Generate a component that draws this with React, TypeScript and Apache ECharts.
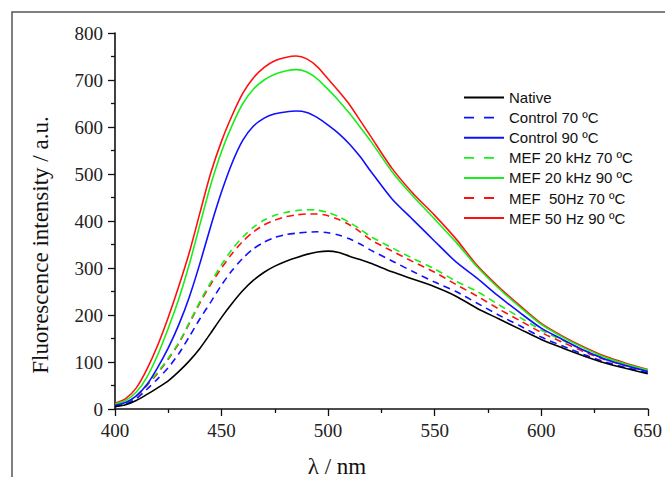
import React, { useEffect, useRef } from "react";
import * as echarts from "echarts";

const wavelengths = [
  400, 405, 410, 415, 420, 425, 430, 435, 440, 445, 450, 455, 460, 465, 470, 475, 480, 485, 490, 495, 500,
  505, 510, 515, 520, 530, 540, 550, 560, 570, 580, 590, 600, 610, 620, 630, 640, 650,
];

const native = [
  5, 9, 18, 31, 45, 60, 80, 103, 130, 162, 195, 225, 252, 274, 291, 304, 314, 322, 329, 334, 336,
  333, 325, 318, 310, 292, 276, 260, 240, 214, 192, 170, 148, 130, 113, 98, 86, 75,
];
const control70 = [
  5, 10, 22, 42, 64, 88, 118, 155, 193, 228, 264, 295, 321, 341, 355, 365, 371, 374, 376, 377, 375,
  370, 362, 351, 338, 315, 292, 270, 250, 225, 200, 177, 153, 134, 116, 100, 88, 77,
];
const control90 = [
  8, 14, 28, 52, 88, 130, 180, 240, 312, 390, 462, 524, 572, 602, 619, 628, 632, 634, 631, 620, 604,
  586, 564, 537, 506, 447, 402, 357, 313, 278, 240, 205, 172, 148, 125, 106, 92, 80,
];
const mef20k70 = [
  6, 12, 28, 52, 78, 108, 142, 185, 230, 270, 307, 340, 366, 387, 402, 412, 418, 422, 424, 423, 418,
  409, 397, 383, 367, 343, 320, 298, 272, 250, 222, 195, 168, 146, 125, 108, 94, 82,
];
const mef20k90 = [
  10, 18, 36, 68, 115, 172, 235, 310, 395, 478, 548, 604, 650, 681, 700, 712, 719, 722, 717, 702, 680,
  656, 629, 600, 570, 505, 452, 404, 355, 302, 257, 217, 180, 153, 130, 110, 95, 83,
];
const mef50h70 = [
  6, 12, 27, 50, 76, 106, 140, 183, 227, 266, 300, 331, 357, 377, 392, 402, 409, 413, 415, 415, 411,
  403, 392, 377, 360, 336, 313, 291, 265, 240, 213, 188, 163, 142, 122, 105, 92, 80,
];
const mef50h90 = [
  12, 22, 45, 85, 135, 195, 262, 335, 420, 503, 570, 625, 672, 705, 727, 741, 748, 751, 745, 728, 702,
  676, 648, 614, 580, 512, 458, 412, 362, 305, 260, 220, 182, 155, 132, 112, 97, 84,
];

const seriesNames = [
  "Native",
  "Control 70 ºC",
  "Control 90 ºC",
  "MEF 20 kHz 70 ºC",
  "MEF 20 kHz 90 ºC",
  "MEF  50Hz 70 ºC",
  "MEF 50 Hz 90 ºC",
];
const seriesValues = [native, control70, control90, mef20k70, mef20k90, mef50h70, mef50h90];
const seriesColors = ["#000000", "#1010ff", "#1010ff", "#1aee1a", "#1aee1a", "#ff1010", "#ff1010"];
const seriesDashed = [false, true, false, true, false, true, false];

const xTicks = { min: 400, max: 650, interval: 50 };
const yTicks = { min: 0, max: 800, interval: 100 };

export default function App() {
  const ref = useRef<HTMLDivElement>(null);
  useEffect(() => {
    if (!ref.current) return;
    const chart = echarts.init(ref.current, null, { renderer: "svg" });
    const serif = "'Liberation Serif', 'Times New Roman', serif";
    const sans = "'Liberation Sans', Arial, sans-serif";
    chart.setOption({
      animation: false,
      backgroundColor: "#ffffff",
      grid: { left: 115, right: 17, top: 33, bottom: 68, containLabel: false },
      xAxis: {
        type: "value",
        min: xTicks.min,
        max: xTicks.max,
        interval: xTicks.interval,
        axisLine: { show: true, lineStyle: { color: "#111", width: 1.6 } },
        axisTick: { show: true, inside: false, length: 7, lineStyle: { color: "#111", width: 1.3 } },
        minorTick: { show: true, splitNumber: 2, length: 4, lineStyle: { color: "#111", width: 1.3 } },
        splitLine: { show: false },
        axisLabel: { fontFamily: serif, fontSize: 19, color: "#222", margin: 12 },
      },
      yAxis: {
        type: "value",
        min: yTicks.min,
        max: yTicks.max,
        interval: yTicks.interval,
        axisLine: { show: true, lineStyle: { color: "#111", width: 1.6 } },
        axisTick: { show: true, inside: false, length: 7, lineStyle: { color: "#111", width: 1.3 } },
        minorTick: { show: true, splitNumber: 2, length: 4, lineStyle: { color: "#111", width: 1.3 } },
        splitLine: { show: false },
        axisLabel: { fontFamily: serif, fontSize: 19, color: "#222", margin: 12 },
      },
      legend: {
        orient: "vertical",
        left: 463,
        top: 90,
        padding: 0,
        itemWidth: 40,
        itemHeight: 14,
        itemGap: 5.1,
        itemStyle: { opacity: 0, color: "transparent", borderColor: "transparent", borderWidth: 0 },
        textStyle: { fontFamily: sans, fontSize: 15, color: "#111" },
        data: seriesNames.map((n, i) => ({
          name: n,
          itemStyle: { opacity: 0, color: "transparent", borderColor: "transparent", borderWidth: 0 },
          lineStyle: seriesDashed[i] ? { type: [10, 10], width: 1.8 } : { type: "solid", width: 2 },
        })),
      },
      series: seriesNames.map((n, i) => ({
        name: n,
        type: "line",
        showSymbol: false,
        symbol: "none",
        smooth: 0.25,
        data: wavelengths.map((w, k) => [w, seriesValues[i][k]]),
        lineStyle: {
          color: seriesColors[i],
          width: 1.6,
          type: seriesDashed[i] ? [7, 5] : "solid",
        },
        itemStyle: { color: seriesColors[i] },
        z: 10 - i,
      })),
      graphic: [
        {
          type: "polyline",
          shape: { points: [[12, 477], [12, 12], [665, 12]] },
          style: { stroke: "#555", lineWidth: 1.5, fill: null },
          silent: true,
        },
        {
          type: "text",
          x: 337,
          y: 466,
          style: {
            text: "λ / nm",
            fontFamily: serif,
            fontSize: 23,
            fill: "#111",
            align: "center",
            verticalAlign: "middle",
          },
        },
        {
          type: "text",
          x: 40,
          y: 245,
          rotation: Math.PI / 2,
          style: {
            text: "Fluorescence intensity / a.u.",
            fontFamily: serif,
            fontSize: 23,
            fill: "#111",
            align: "center",
            verticalAlign: "middle",
          },
        },
      ],
    });
    return () => chart.dispose();
  }, []);
  return <div ref={ref} style={{ width: 665, height: 477, position: "absolute", left: 0, top: 0 }} />;
}
